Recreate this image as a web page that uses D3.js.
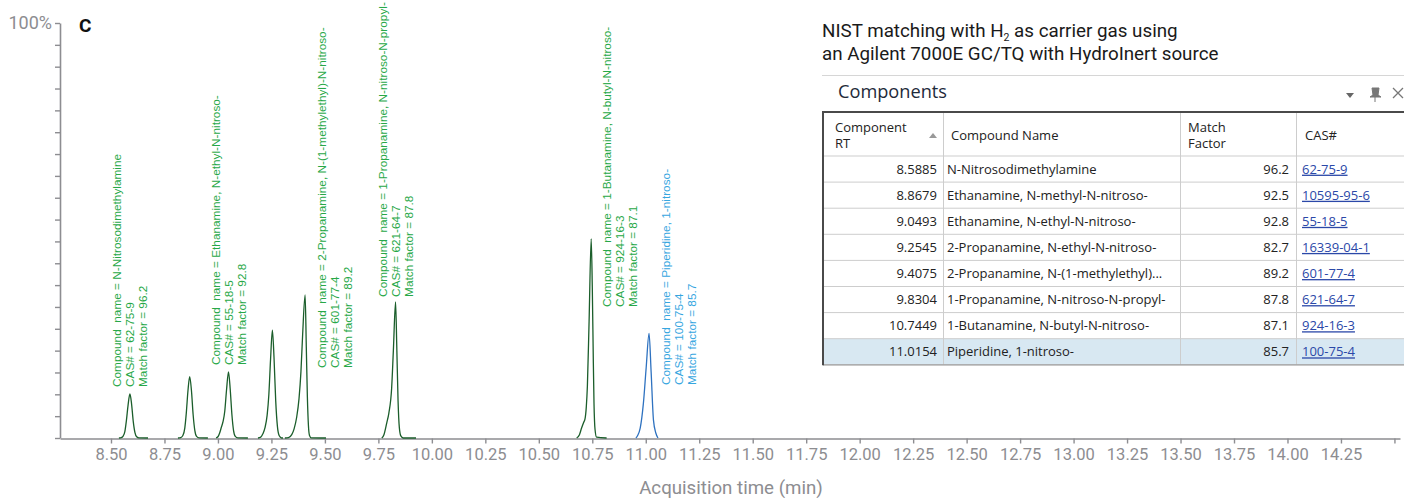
<!DOCTYPE html>
<html>
<head>
<meta charset="utf-8">
<script src="https://cdn.jsdelivr.net/npm/d3@7"></script>
<style>
  html, body { margin: 0; padding: 0; background: #fff; }
  svg { display: block; }
</style>
</head>
<body>
<svg id="chart" width="1404" height="498"></svg>
<script>
// ---- Data -------------------------------------------------------------
const retentionTimes = ["8.5885", "8.8679", "9.0493", "9.2545", "9.4075", "9.8304", "10.7449", "11.0154"];
const compoundNames = [
  "N-Nitrosodimethylamine",
  "Ethanamine, N-methyl-N-nitroso-",
  "Ethanamine, N-ethyl-N-nitroso-",
  "2-Propanamine, N-ethyl-N-nitroso-",
  "2-Propanamine, N-(1-methylethyl)-N-nitroso-",
  "1-Propanamine, N-nitroso-N-propyl-",
  "1-Butanamine, N-butyl-N-nitroso-",
  "Piperidine, 1-nitroso-"
];
const matchFactors = [96.2, 92.5, 92.8, 82.7, 89.2, 87.8, 87.1, 85.7];
const casNumbers = ["62-75-9", "10595-95-6", "55-18-5", "16339-04-1", "601-77-4", "621-64-7", "924-16-3", "100-75-4"];

// Chromatogram trace segments: [time (min), abundance (%)]
const peak1 = [[8.537,0],[8.548,0.1],[8.556,0.4],[8.565,1.6],[8.572,4.2],[8.580,8.0],[8.5885,10.6],[8.596,8.3],[8.604,4.0],[8.612,1.3],[8.620,0.3],[8.630,0.05],[8.673,0]];
const peak2 = [[8.813,0],[8.826,0.1],[8.836,0.6],[8.845,2.4],[8.852,6.0],[8.860,11.5],[8.8679,14.8],[8.876,11.5],[8.884,5.6],[8.892,1.8],[8.900,0.4],[8.912,0.05],[8.953,0]];
const peak3 = [[8.991,0],[9.000,0.3],[9.008,1.2],[9.016,2.6],[9.024,4.0],[9.032,6.5],[9.040,11.5],[9.0493,15.9],[9.057,12.0],[9.065,5.8],[9.073,1.8],[9.081,0.4],[9.093,0.05],[9.140,0]];
const peak4 = [[9.187,0],[9.200,0.2],[9.210,1.0],[9.220,2.5],[9.230,5.5],[9.238,10.5],[9.246,19.0],[9.2545,26.0],[9.262,19.5],[9.270,9.0],[9.278,2.8],[9.286,0.6],[9.296,0.05],[9.304,0]];
const peak5 = [[9.313,0],[9.330,0.1],[9.345,0.8],[9.356,2.2],[9.368,5.0],[9.379,9.5],[9.388,16.0],[9.396,25.0],[9.4075,34.5],[9.413,22.0],[9.418,10.0],[9.423,3.0],[9.428,0.6],[9.436,0.05],[9.505,0]];
const peak6 = [[9.766,0],[9.776,0.8],[9.789,3.6],[9.799,6.0],[9.812,12.0],[9.820,21.0],[9.8304,32.8],[9.836,22.0],[9.842,9.0],[9.848,2.5],[9.855,0.5],[9.866,0],[9.926,0]];
const peak7 = [[10.677,0],[10.690,0.8],[10.700,2.4],[10.710,3.8],[10.716,4.6],[10.722,7.5],[10.727,12.4],[10.735,28.0],[10.7449,48.0],[10.750,36.5],[10.755,18.0],[10.758,8.4],[10.763,2.0],[10.770,0.2],[10.817,0]];
const peak8 = [[10.954,0],[10.962,0.6],[10.974,2.4],[10.989,8.4],[11.002,17.0],[11.0154,25.2],[11.025,16.0],[11.036,4.3],[11.047,1.2],[11.057,0]];
const traces = [peak1, peak2, peak3, peak4, peak5, peak6, peak7, peak8];

const labelledPeaks = [0, 2, 4, 5, 6, 7];
const selectedPeak = 7;

const xTickValues = [8.50, 8.75, 9.00, 9.25, 9.50, 9.75, 10.00, 10.25, 10.50, 10.75, 11.00, 11.25, 11.50, 11.75,
  12.00, 12.25, 12.50, 12.75, 13.00, 13.25, 13.50, 13.75, 14.00, 14.25, 14.50];
const xTickLabels = ["8.50", "8.75", "9.00", "9.25", "9.50", "9.75", "10.00", "10.25", "10.50", "10.75", "11.00", "11.25",
  "11.50", "11.75", "12.00", "12.25", "12.50", "12.75", "13.00", "13.25", "13.50", "13.75", "14.00", "14.25", ""];
const yTickCount = 19;

// ---- Layout -----------------------------------------------------------
// Label placement: dx = offset of first text line from the peak, bottom = y of text start
const labelLayout = {
  0: { dx: -8.5, gap: 7 },
  2: { dx: -8.5, gap: 7 },
  4: { dx: 21, bottom: 368 },
  5: { dx: -8.5, gap: 5 },
  6: { dx: 20, bottom: 307 },
  7: { dx: 21, bottom: 385 }
};

const GREEN_TRACE = "#1b5e2b";
const BLUE_TRACE = "#2e72c0";
const GREEN_TEXT = "#27a847";
const BLUE_TEXT = "#36a6df";
const AXIS = "#8d8d91";

const svg = d3.select("#chart");

const x = d3.scaleLinear().domain([8.2616, 14.526]).range([60, 1400]);
const y = d3.scaleLinear().domain([0, 100]).range([438, 23]);

// ---- Axes -------------------------------------------------------------
const xAxis = d3.axisBottom(x)
  .tickValues(xTickValues)
  .tickFormat((d, i) => xTickLabels[i])
  .tickSizeInner(5).tickSizeOuter(0).tickPadding(5);

const gx = svg.append("g").attr("transform", `translate(0,${y(0) + 0.5})`).call(xAxis);
gx.select(".domain").attr("stroke", AXIS).attr("stroke-width", 1.6);
gx.selectAll(".tick line").attr("stroke", AXIS).attr("stroke-width", 1.4);
gx.selectAll(".tick text").attr("fill", AXIS).attr("font-family", "Roboto").attr("font-size", 16.5);

const yTicks = d3.range(yTickCount + 1).map(i => i * 100 / yTickCount);
const yAxis = d3.axisLeft(y).tickValues(yTicks).tickFormat("").tickSizeInner(5).tickSizeOuter(0);
const gy = svg.append("g").attr("transform", `translate(${x.range()[0]},0)`).call(yAxis);
gy.select(".domain").attr("stroke", AXIS).attr("stroke-width", 1.6);
gy.selectAll(".tick line").attr("stroke", AXIS).attr("stroke-width", 1.4);

svg.append("text").attr("x", 52).attr("y", y(100) + 6)
  .attr("text-anchor", "end").attr("fill", AXIS)
  .attr("font-family", "Roboto").attr("font-size", 18).text("100%");

svg.append("text").attr("x", 79).attr("y", 32)
  .attr("fill", "#111").attr("font-family", "Roboto").attr("font-weight", "bold")
  .attr("font-size", 19).text("C");

svg.append("text").attr("x", 731).attr("y", 494)
  .attr("text-anchor", "middle").attr("fill", AXIS)
  .attr("font-family", "Roboto").attr("font-size", 18.7).text("Acquisition time (min)");

// ---- Traces -----------------------------------------------------------
const line = d3.line().x(d => x(d[0])).y(d => y(d[1])).curve(d3.curveMonotoneX);

svg.append("g").selectAll("path").data(traces).join("path")
  .attr("d", line)
  .attr("fill", "none")
  .attr("stroke", (d, i) => i === selectedPeak ? BLUE_TRACE : GREEN_TRACE)
  .attr("stroke-width", 1.3)
  .attr("stroke-linejoin", "round");

// ---- Peak annotations -------------------------------------------------
const labels = svg.append("g").attr("font-family", "Liberation Sans, Arial, sans-serif").attr("font-size", 11.8);
labelledPeaks.forEach(i => {
  const apex = traces[i].reduce((a, b) => (b[1] > a[1] ? b : a));
  const lay = labelLayout[i];
  const px = x(apex[0]) + lay.dx;
  const py = lay.bottom !== undefined ? lay.bottom : y(apex[1]) - lay.gap;
  const g = labels.append("g").attr("transform", `translate(${px},${py}) rotate(-90)`)
    .attr("fill", i === selectedPeak ? BLUE_TEXT : GREEN_TEXT);
  const lines = [
    `Compound  name = ${compoundNames[i]}`,
    `CAS# = ${casNumbers[i]}`,
    `Match factor = ${matchFactors[i]}`
  ];
  g.selectAll("text").data(lines).join("text")
    .attr("x", 0).attr("y", (d, k) => k * 12.8)
    .style("white-space", "pre")
    .text(d => d);
});

// ---- Title ------------------------------------------------------------
const title = svg.append("text").attr("font-family", "Roboto").attr("font-size", 18.8).attr("fill", "#1a1a1a");
const t1 = title.append("tspan").attr("x", 822).attr("y", 37);
t1.append("tspan").text("NIST matching with H");
t1.append("tspan").attr("dy", 3.5).attr("font-size", 10.5).text("2");
t1.append("tspan").attr("dy", -3.5).text(" as carrier gas using");
title.append("tspan").attr("x", 822).attr("y", 59.5).text("an Agilent 7000E GC/TQ with HydroInert source");

// ---- Components table -------------------------------------------------
const table = svg.append("g");
const colX = [823, 943, 1180, 1296, 1404];
const headerTop = 112, headerBottom = 156, rowH = 26.1;
const tableFont = "Open Sans, Noto Sans, sans-serif";

table.append("line").attr("x1", 822).attr("x2", 1404).attr("y1", 75.5).attr("y2", 75.5)
  .attr("stroke", "#d6d6d6").attr("stroke-width", 1);
table.append("text").attr("x", 838).attr("y", 98).attr("font-family", tableFont)
  .attr("font-size", 18.2).attr("fill", "#1e2a3a").text("Components");
// panel header controls
table.append("path").attr("d", "M1346,93 L1354,93 L1350,98 Z").attr("fill", "#666");
table.append("path").attr("d", "M1372,88 L1379,88 L1378,95 L1381,97 L1370,97 L1373,95 Z M1375,97 L1375,102")
  .attr("fill", "#777").attr("stroke", "#777").attr("stroke-width", 1);
table.append("path").attr("d", "M1393,88 L1403,98 M1403,88 L1393,98").attr("stroke", "#777").attr("stroke-width", 1.3);

// selected row highlight
const rows = retentionTimes.map((rt, i) => i);
table.append("rect")
  .attr("x", colX[0]).attr("y", headerBottom + selectedPeak * rowH)
  .attr("width", colX[4] - colX[0]).attr("height", rowH)
  .attr("fill", "#d8e8f2");

// grid lines
table.selectAll("line.h").data(d3.range(retentionTimes.length + 1)).join("line")
  .attr("x1", colX[0]).attr("x2", colX[4])
  .attr("y1", d => headerBottom + d * rowH).attr("y2", d => headerBottom + d * rowH)
  .attr("stroke", "#cdcdcd").attr("stroke-width", 1);
table.selectAll("line.v").data(colX.slice(1, 4)).join("line")
  .attr("x1", d => d + 0.5).attr("x2", d => d + 0.5)
  .attr("y1", headerTop).attr("y2", headerBottom + retentionTimes.length * rowH)
  .attr("stroke", "#cdcdcd").attr("stroke-width", 1);
table.append("line").attr("x1", colX[0]).attr("x2", colX[4])
  .attr("y1", headerBottom + retentionTimes.length * rowH).attr("y2", headerBottom + retentionTimes.length * rowH)
  .attr("stroke", "#a0a0a0").attr("stroke-width", 1.2);
// outer frame
table.append("line").attr("x1", 822).attr("x2", 1404).attr("y1", headerTop).attr("y2", headerTop)
  .attr("stroke", "#4a4a4a").attr("stroke-width", 2);
table.append("line").attr("x1", 823).attr("x2", 823).attr("y1", headerTop).attr("y2", headerBottom + retentionTimes.length * rowH + 0.5)
  .attr("stroke", "#4a4a4a").attr("stroke-width", 2);

// header labels
const hdr = table.append("g").attr("font-family", tableFont).attr("font-size", 13).attr("fill", "#222");
hdr.append("text").attr("x", 835).attr("y", 132).text("Component");
hdr.append("text").attr("x", 835).attr("y", 148).text("RT");
hdr.append("path").attr("d", "M929,138 L937,138 L933,133 Z").attr("fill", "#999");
hdr.append("text").attr("x", 951).attr("y", 140).text("Compound Name");
hdr.append("text").attr("x", 1188).attr("y", 132).text("Match");
hdr.append("text").attr("x", 1188).attr("y", 148).text("Factor");
hdr.append("text").attr("x", 1305).attr("y", 140).text("CAS#");

// body rows
const body = table.append("g").attr("font-family", tableFont).attr("font-size", 13).attr("fill", "#222");
const rowY = i => headerBottom + i * rowH + rowH / 2 + 4.6;
body.selectAll("text.rt").data(rows).join("text")
  .attr("x", colX[1] - 6).attr("y", rowY).attr("text-anchor", "end").text(i => retentionTimes[i]);
body.selectAll("text.name").data(rows).join("text")
  .attr("x", colX[1] + 4).attr("y", rowY).text(i => compoundNames[i])
  .each(function () {
    // names wider than the column are cut short and end with an ellipsis
    const el = d3.select(this);
    const colW = colX[2] - colX[1] - 14;
    const cutW = colW - 6;
    let s = el.text();
    if (this.getComputedTextLength() > colW) {
      while (s.length && (el.text(s + "..."), this.getComputedTextLength() > cutW)) s = s.slice(0, -1);
    }
  });
body.selectAll("text.mf").data(rows).join("text")
  .attr("x", colX[3] - 7).attr("y", rowY).attr("text-anchor", "end").text(i => matchFactors[i].toFixed(1));
body.selectAll("text.cas").data(rows).join("text")
  .attr("x", colX[3] + 6).attr("y", rowY).attr("fill", "#2b48a8")
  .attr("text-decoration", "underline").text(i => casNumbers[i]);
</script>
</body>
</html>
